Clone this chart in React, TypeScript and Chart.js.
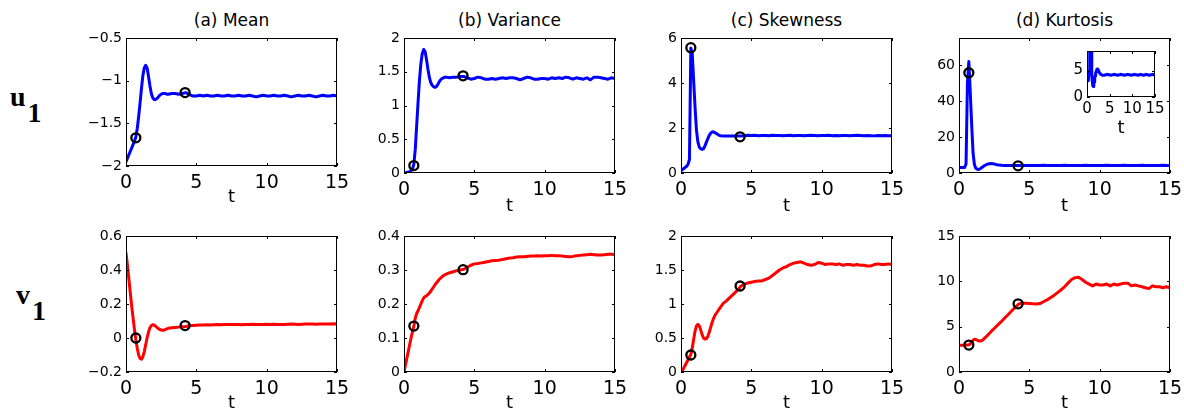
import React, { useEffect, useRef } from 'react';
import { Chart, registerables } from 'chart.js';
Chart.register(...registerables);

// ---------- data ----------
const T = [0, 0.1, 0.2, 0.3, 0.4, 0.5, 0.6, 0.7, 0.8, 0.9, 1, 1.1, 1.2, 1.3, 1.4, 1.5, 1.6, 1.7, 1.8, 1.9, 2, 2.1, 2.2, 2.3, 2.4, 2.5, 2.6, 2.7, 2.8, 2.9, 3,
  3.25, 3.5, 3.75, 4, 4.25, 4.5, 4.75, 5, 5.25, 5.5, 5.75, 6, 6.25, 6.5, 6.75, 7, 7.25, 7.5, 7.75, 8, 8.25, 8.5, 8.75, 9,
  9.25, 9.5, 9.75, 10, 10.25, 10.5, 10.75, 11, 11.25, 11.5, 11.75, 12, 12.25, 12.5, 12.75, 13, 13.25, 13.5, 13.75, 14, 14.25, 14.5, 14.75, 15];

const U_MEAN = [-1.95, -1.91, -1.87, -1.83, -1.79, -1.75, -1.71, -1.66, -1.56, -1.42, -1.26, -1.09, -0.94, -0.85, -0.82, -0.85, -0.95, -1.06, -1.15, -1.2, -1.22, -1.22, -1.21, -1.19, -1.17, -1.16, -1.15, -1.15, -1.15, -1.16, -1.16,
  -1.15, -1.15, -1.16, -1.15, -1.14, -1.16, -1.18, -1.18, -1.17, -1.18, -1.17, -1.18, -1.18, -1.17, -1.18, -1.18,
  -1.17, -1.18, -1.18, -1.17, -1.18, -1.18, -1.17, -1.18, -1.19, -1.18, -1.17, -1.18, -1.18, -1.17, -1.18, -1.18,
  -1.17, -1.18, -1.19, -1.18, -1.17, -1.18, -1.18, -1.17, -1.18, -1.19, -1.18, -1.17, -1.18, -1.18, -1.17, -1.18];

const U_VAR = [0, 0, 0.01, 0.01, 0.02, 0.03, 0.06, 0.13, 0.35, 0.7, 1.05, 1.38, 1.62, 1.77, 1.83, 1.8, 1.68, 1.54, 1.42, 1.34, 1.3, 1.28, 1.27, 1.28, 1.31, 1.35, 1.38, 1.4, 1.41, 1.42, 1.42,
  1.41, 1.42, 1.42, 1.43, 1.43, 1.41, 1.39, 1.4, 1.42, 1.41, 1.39, 1.39, 1.4, 1.39, 1.4, 1.41,
  1.4, 1.41, 1.41, 1.4, 1.38, 1.4, 1.42, 1.41, 1.39, 1.39, 1.4, 1.4, 1.39, 1.41, 1.4, 1.41,
  1.4, 1.42, 1.41, 1.39, 1.41, 1.4, 1.39, 1.41, 1.38, 1.42, 1.42, 1.41, 1.4, 1.39, 1.41, 1.4];

const U_SKEW = [0.1, 0.15, 0.2, 0.25, 0.3, 0.38, 0.6, 5.55, 5.3, 4.1, 2.9, 1.9, 1.38, 1.15, 1.07, 1.05, 1.08, 1.2, 1.36, 1.52, 1.66, 1.76, 1.82, 1.83, 1.8, 1.76, 1.72, 1.68, 1.66, 1.65, 1.65,
  1.65, 1.64, 1.65, 1.65, 1.64, 1.66, 1.68, 1.67, 1.68, 1.66, 1.67, 1.67, 1.66, 1.68, 1.67, 1.67,
  1.66, 1.67, 1.68, 1.66, 1.67, 1.67, 1.66, 1.67, 1.68, 1.67, 1.66, 1.67, 1.67, 1.68, 1.66, 1.67,
  1.66, 1.67, 1.67, 1.66, 1.67, 1.68, 1.67, 1.66, 1.67, 1.66, 1.65, 1.67, 1.66, 1.67, 1.66, 1.65];

const U_KURT = [3, 3, 3, 3.1, 3.1, 5, 50, 62, 45, 27, 11, 4.5, 2.6, 2.1, 2, 2.3, 2.9, 3.5, 4, 4.5, 4.8, 5.1, 5.2, 5.3, 5.2, 5, 4.8, 4.6, 4.5, 4.4, 4.3,
  4.2, 4.1, 4.1, 4.2, 4.2, 4.3, 4.2, 4.2, 4.1, 4.2, 4.2, 4.3, 4.2, 4.2, 4.1, 4.2,
  4.2, 4.3, 4.2, 4.2, 4.1, 4.2, 4.2, 4.3, 4.2, 4.2, 4.1, 4.2, 4.2, 4.3, 4.2, 4.2,
  4.1, 4.2, 4.3, 4.2, 4.2, 4.1, 4.2, 4.3, 4.2, 4.2, 4.1, 4.2, 4.2, 4.3, 4.2, 4.2];

const V_MEAN = [0.5, 0.43, 0.35, 0.27, 0.19, 0.12, 0.05, -0.01, -0.06, -0.1, -0.12, -0.125, -0.11, -0.08, -0.04, 0, 0.035, 0.06, 0.073, 0.078, 0.076, 0.07, 0.062, 0.055, 0.05, 0.047, 0.045, 0.046, 0.05, 0.054, 0.057,
  0.06, 0.062, 0.064, 0.066, 0.068, 0.072, 0.074, 0.075, 0.076, 0.077, 0.078, 0.077, 0.078, 0.079, 0.078, 0.079,
  0.08, 0.079, 0.08, 0.079, 0.078, 0.079, 0.08, 0.081, 0.08, 0.079, 0.08, 0.081, 0.08, 0.081, 0.08, 0.079,
  0.08, 0.081, 0.082, 0.081, 0.08, 0.081, 0.082, 0.083, 0.082, 0.081, 0.082, 0.083, 0.082, 0.083, 0.084, 0.083];

const V_VAR = [0, 0.02, 0.04, 0.06, 0.08, 0.1, 0.118, 0.135, 0.158, 0.172, 0.18, 0.19, 0.2, 0.21, 0.218, 0.222, 0.224, 0.228, 0.232, 0.238, 0.244, 0.25, 0.256, 0.262, 0.267, 0.272, 0.276, 0.28, 0.283, 0.286, 0.288,
  0.292, 0.295, 0.298, 0.3, 0.302, 0.308, 0.314, 0.318, 0.319, 0.321, 0.323, 0.325, 0.327, 0.328, 0.329, 0.331,
  0.333, 0.335, 0.336, 0.338, 0.339, 0.339, 0.34, 0.341, 0.341, 0.342, 0.341, 0.342, 0.342, 0.343, 0.342, 0.342,
  0.341, 0.34, 0.339, 0.34, 0.342, 0.343, 0.344, 0.345, 0.346, 0.345, 0.344, 0.344, 0.345, 0.346, 0.346, 0.345];

const V_SKEW = [0, 0.02, 0.06, 0.1, 0.14, 0.18, 0.22, 0.26, 0.35, 0.48, 0.6, 0.68, 0.7, 0.68, 0.62, 0.55, 0.5, 0.485, 0.49, 0.52, 0.58, 0.65, 0.72, 0.78, 0.83, 0.86, 0.89, 0.92, 0.95, 0.98, 1.01,
  1.05, 1.1, 1.15, 1.2, 1.26, 1.29, 1.31, 1.32, 1.33, 1.34, 1.34, 1.36, 1.38, 1.42, 1.46, 1.5,
  1.53, 1.55, 1.58, 1.6, 1.61, 1.62, 1.6, 1.58, 1.57, 1.58, 1.61, 1.6, 1.58, 1.59, 1.59, 1.58,
  1.59, 1.57, 1.58, 1.58, 1.57, 1.58, 1.57, 1.57, 1.56, 1.56, 1.58, 1.59, 1.58, 1.58, 1.59, 1.58];

const V_KURT = [2.95, 2.95, 2.95, 2.96, 2.97, 2.97, 2.98, 3, 3.1, 3.3, 3.5, 3.6, 3.58, 3.5, 3.45, 3.43, 3.45, 3.55, 3.7, 3.85, 4, 4.17, 4.33, 4.5, 4.65, 4.8, 4.95, 5.1, 5.25, 5.4, 5.55,
  5.95, 6.35, 6.75, 7.15, 7.5, 7.6, 7.58, 7.55, 7.52, 7.5, 7.55, 7.75, 7.95, 8.2, 8.45, 8.75,
  9.05, 9.4, 9.8, 10.2, 10.4, 10.45, 10.2, 9.9, 9.7, 9.5, 9.7, 9.6, 9.6, 9.7, 9.5, 9.7,
  9.6, 9.7, 9.8, 9.8, 9.5, 9.6, 9.5, 9.4, 9.3, 9.2, 9.5, 9.4, 9.4, 9.3, 9.4, 9.3];

// circle markers
const MARK_T = [0.7, 4.2];
const U_MEAN_MARK = [-1.67, -1.14];
const U_VAR_MARK = [0.11, 1.44];
const U_SKEW_MARK = [5.57, 1.61];
const U_KURT_MARK = [55.7, 4.0];
const V_MEAN_MARK = [0.0, 0.073];
const V_VAR_MARK = [0.135, 0.301];
const V_SKEW_MARK = [0.25, 1.265];
const V_KURT_MARK = [2.97, 7.52];

// ticks
const X_TICKS = [0, 5, 10, 15];
const U_MEAN_TICKS = [-2, -1.5, -1, -0.5];
const U_VAR_TICKS = [0, 0.5, 1, 1.5, 2];
const U_SKEW_TICKS = [0, 2, 4, 6];
const U_KURT_TICKS = [0, 20, 40, 60];
const V_MEAN_TICKS = [-0.2, 0, 0.2, 0.4, 0.6];
const V_VAR_TICKS = [0, 0.1, 0.2, 0.3, 0.4];
const V_SKEW_TICKS = [0, 0.5, 1, 1.5, 2];
const V_KURT_TICKS = [0, 5, 10, 15];
const INSET_TICKS = [0, 5];

const TITLES = ['(a) Mean', '(b) Variance', '(c) Skewness', '(d) Kurtosis'];
const X_LABEL = 't';

// ---------- layout ----------
const COL_L = [126, 404, 681, 959];
const PLOT_W = 211;

const fmt = (v: number) => String(v).replace('-', '\u2212');

function boxPlugin(fill: string | null) {
  return {
    id: 'matlabBox',
    beforeDatasetsDraw(chart: any) {
      if (!fill) return;
      const a = chart.chartArea;
      const ctx = chart.ctx;
      ctx.save();
      ctx.fillStyle = fill;
      ctx.fillRect(a.left, a.top, a.right - a.left, a.bottom - a.top);
      ctx.restore();
    },
    afterDatasetsDraw(chart: any) {
      const { ctx, chartArea: a, scales } = chart;
      ctx.save();
      ctx.strokeStyle = '#000';
      ctx.lineWidth = 1;
      ctx.strokeRect(a.left + 0.5, a.top + 0.5, a.right - a.left - 1, a.bottom - a.top - 1);
      const tl = 3;
      ctx.beginPath();
      for (const t of scales.x.ticks) {
        const px = Math.round(scales.x.getPixelForValue(t.value)) + 0.5;
        ctx.moveTo(px, a.bottom); ctx.lineTo(px, a.bottom - tl);
        ctx.moveTo(px, a.top); ctx.lineTo(px, a.top + tl);
      }
      for (const t of scales.y.ticks) {
        const py = Math.round(scales.y.getPixelForValue(t.value)) + 0.5;
        ctx.moveTo(a.left, py); ctx.lineTo(a.left + tl, py);
        ctx.moveTo(a.right, py); ctx.lineTo(a.right - tl, py);
      }
      ctx.stroke();
      ctx.restore();
    },
  };
}

type PanelProps = {
  l: number; t: number; w: number; h: number;
  ys: number[]; my?: number[]; color: string;
  yMin: number; yMax: number; yTicks: number[];
  xAxisH: number; inset?: boolean;
};

function Panel(p: PanelProps) {
  const ref = useRef<HTMLCanvasElement>(null);
  const padL = p.inset ? 28 : 50;
  const padT = p.inset ? 10 : 15;
  const padR = p.inset ? 14 : 24;
  const cw = p.w + padL + padR;
  const ch = p.h + padT + p.xAxisH;
  const xFont = p.inset ? 15 : 19;
  const yFont = p.inset ? 15 : 14;

  useEffect(() => {
    const datasets: any[] = [];
    if (p.my) {
      datasets.push({
        data: MARK_T.map((x, i) => ({ x, y: p.my![i] })),
        showLine: false,
        pointRadius: 4.5,
        pointBorderWidth: 2.3,
        pointBorderColor: '#000',
        pointBackgroundColor: 'rgba(0,0,0,0)',
        order: 0,
      });
    }
    datasets.push({
      data: T.map((x, i) => ({ x, y: p.ys[i] })),
      borderColor: p.color,
      borderWidth: 3,
      borderJoinStyle: 'round',
      borderCapStyle: 'round',
      pointRadius: 0,
      tension: 0,
      fill: false,
      order: 1,
    });
    const chart = new Chart(ref.current as HTMLCanvasElement, {
      type: 'line',
      data: { datasets },
      options: {
        animation: false,
        responsive: false,
        devicePixelRatio: 1,
        events: [],
        layout: { padding: { left: 0, top: padT, right: padR, bottom: 0 } },
        plugins: { legend: { display: false }, tooltip: { enabled: false }, title: { display: false } },
        scales: {
          x: {
            type: 'linear', min: 0, max: 15,
            grid: { display: false, drawTicks: false },
            border: { display: false },
            afterBuildTicks: (s: any) => { s.ticks = X_TICKS.map((v) => ({ value: v })); },
            afterFit: (s: any) => { s.height = p.xAxisH; },
            ticks: {
              color: '#000', padding: p.inset ? 3 : 6, maxRotation: 0, autoSkip: false,
              font: { family: 'DejaVu Sans', size: xFont },
              callback: (v: any) => fmt(v),
            },
            title: {
              display: true, text: X_LABEL, color: '#000', padding: 0,
              font: { family: 'DejaVu Sans', size: 18 },
            },
          },
          y: {
            type: 'linear', min: p.yMin, max: p.yMax,
            grid: { display: false, drawTicks: false },
            border: { display: false },
            afterBuildTicks: (s: any) => { s.ticks = p.yTicks.map((v) => ({ value: v })); },
            afterFit: (s: any) => { s.width = padL; },
            ticks: {
              color: '#000', padding: 4, autoSkip: false,
              font: { family: 'DejaVu Sans', size: yFont },
              callback: (v: any) => fmt(v),
            },
          },
        },
      } as any,
      plugins: [boxPlugin(p.inset ? '#fff' : null)],
    });
    return () => chart.destroy();
  }, []);

  return (
    <canvas
      ref={ref}
      width={cw}
      height={ch}
      style={{ position: 'absolute', left: p.l - padL, top: p.t - padT, width: cw, height: ch }}
    />
  );
}

function RowLabel({ letter, left, top }: { letter: string; left: number; top: number }) {
  return (
    <div style={{ position: 'absolute', left, top, font: "bold 28px 'Liberation Serif'", lineHeight: '28px', color: '#000', whiteSpace: 'nowrap' }}>
      {letter}
      <span style={{ position: 'relative', top: 16, marginLeft: 2 }}>1</span>
    </div>
  );
}

export default function App() {
  return (
    <div style={{ position: 'absolute', left: 0, top: 0, width: 1184, height: 412, background: '#fff', overflow: 'hidden' }}>
      {TITLES.map((s, i) => (
        <div key={s} style={{ position: 'absolute', left: COL_L[i] - 50, width: PLOT_W + 100, top: 10, textAlign: 'center', font: "17px 'DejaVu Sans'", lineHeight: '20px', color: '#000' }}>{s}</div>
      ))}
      <RowLabel letter="u" left={10} top={83} />
      <RowLabel letter="v" left={16} top={281} />

      <Panel l={COL_L[0]} t={38} w={PLOT_W} h={128} ys={U_MEAN} my={U_MEAN_MARK} color="#0000ff" yMin={-2} yMax={-0.5} yTicks={U_MEAN_TICKS} xAxisH={42} />
      <Panel l={COL_L[1]} t={38} w={PLOT_W} h={135} ys={U_VAR} my={U_VAR_MARK} color="#0000ff" yMin={0} yMax={2} yTicks={U_VAR_TICKS} xAxisH={44} />
      <Panel l={COL_L[2]} t={38} w={PLOT_W} h={135} ys={U_SKEW} my={U_SKEW_MARK} color="#0000ff" yMin={0} yMax={6} yTicks={U_SKEW_TICKS} xAxisH={44} />
      <Panel l={COL_L[3]} t={38} w={PLOT_W} h={135} ys={U_KURT} my={U_KURT_MARK} color="#0000ff" yMin={0} yMax={75} yTicks={U_KURT_TICKS} xAxisH={44} />
      <Panel l={1087} t={48} w={68} h={49} ys={U_KURT} color="#0000ff" yMin={0} yMax={8.7} yTicks={INSET_TICKS} xAxisH={42} inset />

      <Panel l={COL_L[0]} t={236} w={PLOT_W} h={136} ys={V_MEAN} my={V_MEAN_MARK} color="#ff0000" yMin={-0.2} yMax={0.6} yTicks={V_MEAN_TICKS} xAxisH={42} />
      <Panel l={COL_L[1]} t={236} w={PLOT_W} h={136} ys={V_VAR} my={V_VAR_MARK} color="#ff0000" yMin={0} yMax={0.4} yTicks={V_VAR_TICKS} xAxisH={42} />
      <Panel l={COL_L[2]} t={236} w={PLOT_W} h={136} ys={V_SKEW} my={V_SKEW_MARK} color="#ff0000" yMin={0} yMax={2} yTicks={V_SKEW_TICKS} xAxisH={42} />
      <Panel l={COL_L[3]} t={236} w={PLOT_W} h={136} ys={V_KURT} my={V_KURT_MARK} color="#ff0000" yMin={0} yMax={15} yTicks={V_KURT_TICKS} xAxisH={42} />
    </div>
  );
}
